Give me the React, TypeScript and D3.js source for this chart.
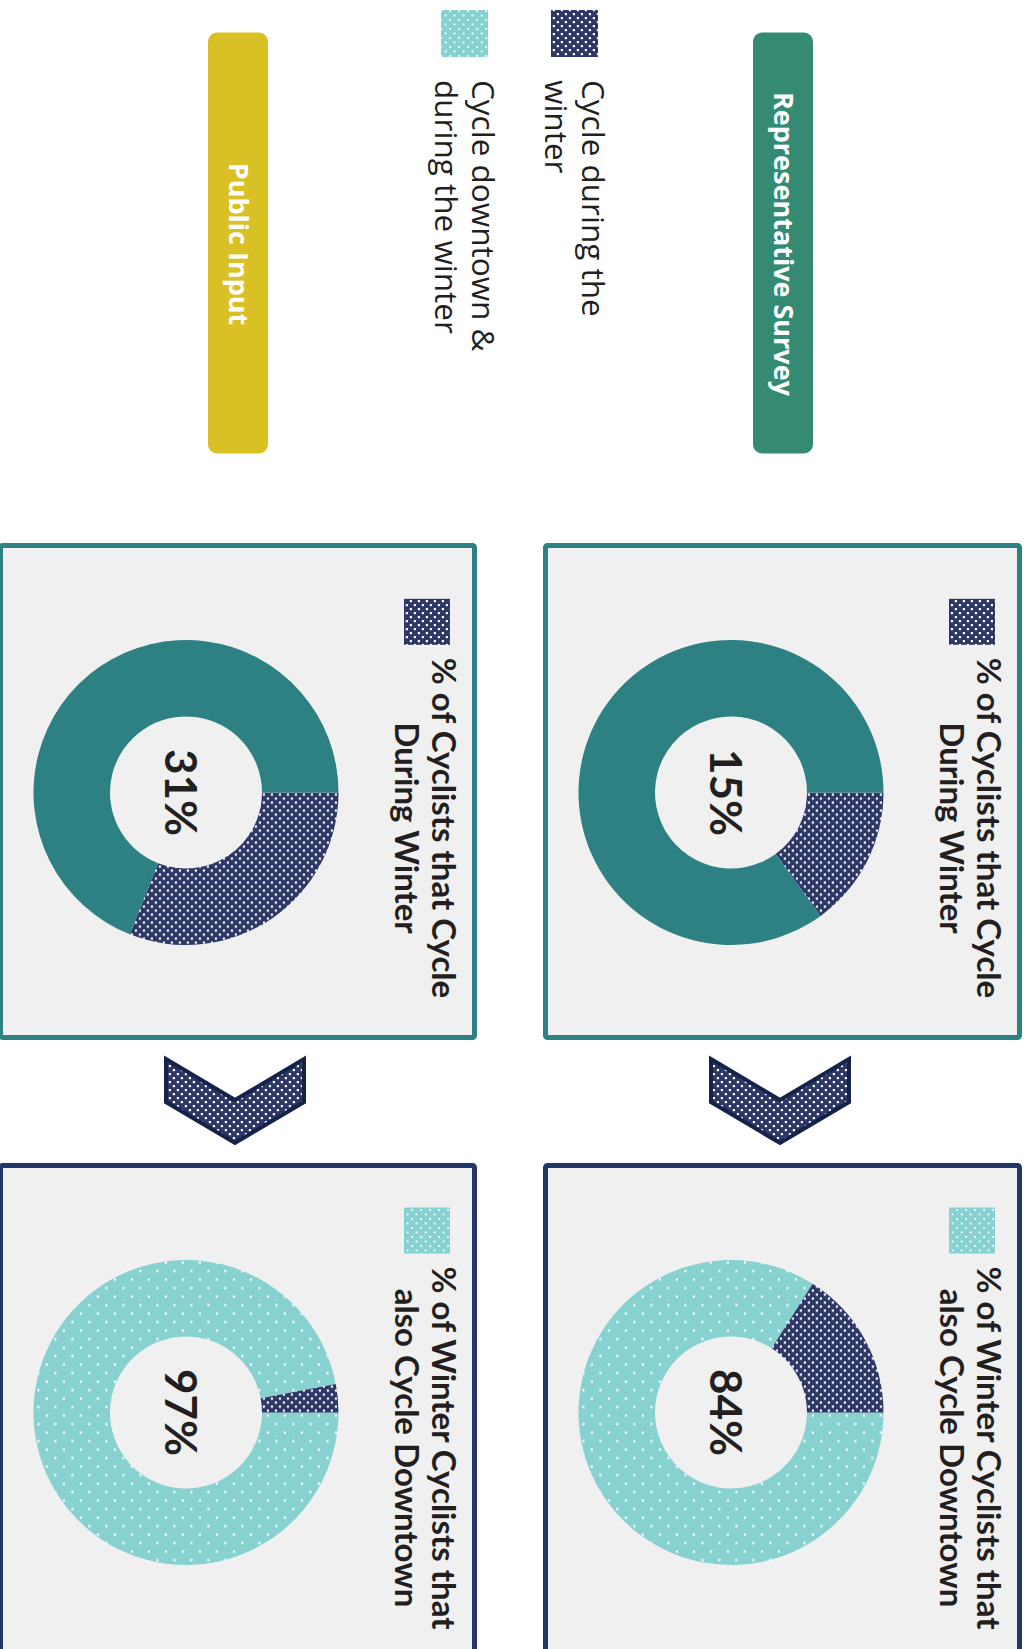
import React, { useEffect, useRef } from "react";
import * as d3 from "d3";

// ---- data ----
const groups = ["Representative Survey", "Public Input"];
const groupColors = ["#348a72", "#d9c125"];
const winterShare = [15, 31]; // % of cyclists that cycle during winter
const downtownShare = [84, 97]; // % of winter cyclists that also cycle downtown
const winterTitle = ["% of Cyclists that Cycle", "During Winter"];
const downtownTitle = ["% of Winter Cyclists that", "also Cycle Downtown"];
const legendLabels = [
  ["Cycle during the", "winter"],
  ["Cycle downtown &", "during the winter"],
];

const W = 1028;
const H = 1649;
const FONT = "Lato, 'Open Sans', sans-serif";
const FONT2 = "'Open Sans', Lato, sans-serif";

export default function App() {
  const ref = useRef<SVGSVGElement>(null);

  useEffect(() => {
    const svg = d3.select(ref.current);
    svg.selectAll("*").remove();
    const defs = svg.append("defs");

    // navy dotted pattern
    const pn = defs
      .append("pattern")
      .attr("id", "navyDots")
      .attr("patternUnits", "userSpaceOnUse")
      .attr("width", 8)
      .attr("height", 8);
    pn.append("rect").attr("width", 8).attr("height", 8).attr("fill", "#2d3868");
    [
      [1, 1],
      [5, 5],
    ].forEach(([x, y]) =>
      pn.append("rect").attr("x", x).attr("y", y).attr("width", 2.2).attr("height", 2.2).attr("fill", "#ffffff")
    );
    // light teal dotted pattern
    const pl = defs
      .append("pattern")
      .attr("id", "lightDots")
      .attr("patternUnits", "userSpaceOnUse")
      .attr("width", 17)
      .attr("height", 17);
    pl.append("rect").attr("width", 17).attr("height", 17).attr("fill", "#88d1d1");
    [
      [2, 2],
      [10.5, 10.5],
    ].forEach(([x, y]) =>
      pl.append("rect").attr("x", x).attr("y", y).attr("width", 2.2).attr("height", 2.2).attr("fill", "#ffffff")
    );
    // denser light pattern for legend swatches
    const pl2 = defs
      .append("pattern")
      .attr("id", "lightDots2")
      .attr("patternUnits", "userSpaceOnUse")
      .attr("width", 9)
      .attr("height", 9);
    pl2.append("rect").attr("width", 9).attr("height", 9).attr("fill", "#88d1d1");
    [
      [1, 1],
      [5.5, 5.5],
    ].forEach(([x, y]) =>
      pl2.append("rect").attr("x", x).attr("y", y).attr("width", 1.8).attr("height", 1.8).attr("fill", "#ffffff")
    );

    const NAVY = "url(#navyDots)";
    const LIGHT = "url(#lightDots)";
    const TEAL = "#2e8183";

    // everything is drawn in the landscape frame and rotated 90deg clockwise
    const root = svg.append("g").attr("transform", `translate(${W},0) rotate(90)`);

    // ---- group pills ----
    const pillY = [215, 760];
    groups.forEach((g, i) => {
      root
        .append("rect")
        .attr("x", 32.5)
        .attr("y", pillY[i])
        .attr("width", 421)
        .attr("height", 60)
        .attr("rx", 9)
        .attr("fill", groupColors[i]);
      root
        .append("text")
        .attr("x", 244)
        .attr("y", pillY[i] + 39)
        .attr("text-anchor", "middle")
        .attr("font-family", FONT2)
        .attr("font-weight", 700)
        .attr("font-size", 27)
        .attr("fill", "#ffffff")
        .text(g);
    });

    // ---- top legend ----
    const legendY = [430, 540];
    const legendFill = [NAVY, "url(#lightDots2)"];
    legendLabels.forEach((lines, i) => {
      root
        .append("rect")
        .attr("x", 10)
        .attr("y", legendY[i])
        .attr("width", 47)
        .attr("height", 47)
        .attr("fill", legendFill[i]);
      const t = root
        .append("text")
        .attr("font-family", FONT2)
        .attr("font-size", 31.5)
        .attr("fill", "#231f20");
      lines.forEach((ln, j) => {
        t.append("tspan")
          .attr("x", 80)
          .attr("y", legendY[i] + 16 + j * 37.5)
          .text(ln);
      });
    });

    // ---- panels ----
    const panelX = [543, 1163];
    const panelY = [6, 551];
    const PW = 497;
    const PH = 479;
    const pie = d3
      .pie<number>()
      .sort(null)
      .value((d) => d);
    const arc = d3.arc<d3.PieArcDatum<number>>().innerRadius(76).outerRadius(152.5);

    const panels: {
      col: number;
      row: number;
      values: number[];
      fills: string[];
      label: number;
      title: string[];
      swatch: string;
      border: string;
    }[] = [];
    groups.forEach((_, gi) => {
      panels.push({
        col: 0,
        row: gi,
        values: [winterShare[gi], 100 - winterShare[gi]],
        fills: [NAVY, TEAL],
        label: winterShare[gi],
        title: winterTitle,
        swatch: NAVY,
        border: "#2e8183",
      });
      panels.push({
        col: 1,
        row: gi,
        values: [downtownShare[gi], 100 - downtownShare[gi]],
        fills: [LIGHT, NAVY],
        label: downtownShare[gi],
        title: downtownTitle,
        swatch: "url(#lightDots2)",
        border: "#22366a",
      });
    });

    panels.forEach((p) => {
      const x0 = panelX[p.col];
      const y0 = panelY[p.row];
      const g = root.append("g").attr("transform", `translate(${x0},${y0})`);
      g.append("rect")
        .attr("x", 2.5)
        .attr("y", 2.5)
        .attr("width", PW - 5)
        .attr("height", PH - 5)
        .attr("rx", 2)
        .attr("fill", "#f0f0f0")
        .attr("stroke", p.border)
        .attr("stroke-width", 5);

      // title
      const tcx = 285;
      const title = g
        .append("text")
        .attr("text-anchor", "middle")
        .attr("font-family", FONT)
        .attr("font-weight", 700)
        .attr("font-size", 33)
        .attr("fill", "#231f20");
      p.title.forEach((ln, j) => {
        title
          .append("tspan")
          .attr("x", tcx)
          .attr("y", 45 + j * 37.5)
          .text(ln);
      });
      const first = title.select<SVGTSpanElement>("tspan").node();
      const tw = first ? first.getComputedTextLength() : 340;
      g.append("rect")
        .attr("x", tcx - tw / 2 - 13 - 46)
        .attr("y", 27)
        .attr("width", 46)
        .attr("height", 46)
        .attr("fill", p.swatch);

      // donut
      const dg = g.append("g").attr("transform", `translate(${249.5},${291})`);
      dg.selectAll("path")
        .data(pie(p.values))
        .join("path")
        .attr("d", arc)
        .attr("fill", (_, i) => p.fills[i]);
      dg.append("text")
        .attr("x", 0)
        .attr("y", 21)
        .attr("text-anchor", "middle")
        .attr("font-family", FONT)
        .attr("font-weight", 700)
        .attr("font-size", 44)
        .attr("fill", "#231f20")
        .text(`${p.label}%`);
    });

    // ---- chevrons ----
    const chevY = [248, 793];
    chevY.forEach((cy) => {
      const x0 = 1059;
      const pts: [number, number][] = [
        [x0, cy - 69],
        [x0 + 43, cy - 69],
        [x0 + 84, cy],
        [x0 + 43, cy + 69],
        [x0, cy + 69],
        [x0 + 41, cy],
      ];
      root
        .append("path")
        .attr("d", d3.line()(pts) + "Z")
        .attr("fill", NAVY)
        .attr("stroke", "#15234a")
        .attr("stroke-width", 4)
        .attr("stroke-linejoin", "miter");
    });
  }, []);

  return (
    <svg
      ref={ref}
      width={W}
      height={H}
      style={{ position: "absolute", left: 0, top: 0, background: "#ffffff", display: "block" }}
    />
  );
}
